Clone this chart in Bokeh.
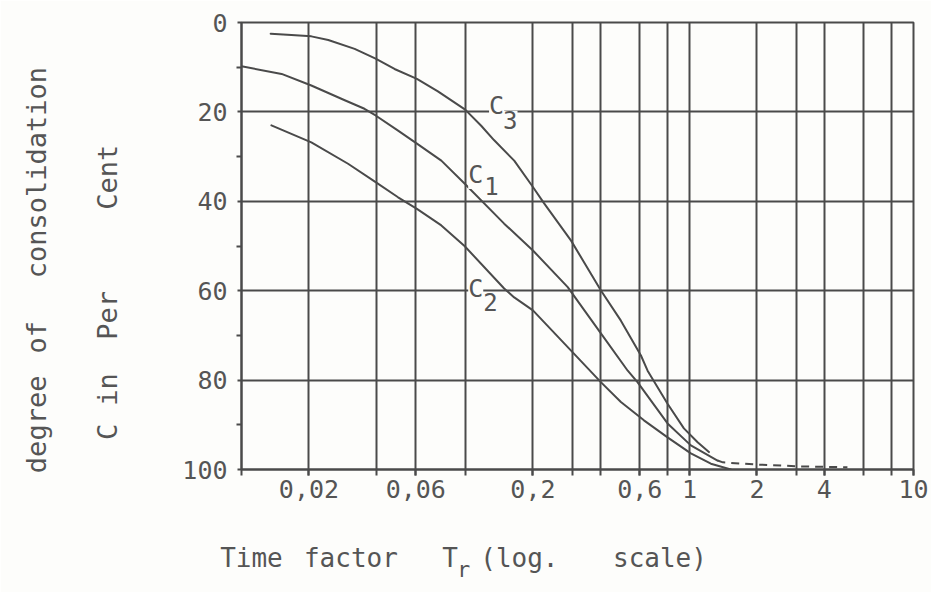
from bokeh.plotting import figure
from bokeh.models import Range1d, FixedTicker, Label, LinearAxis
from bokeh.embed import file_html
from bokeh.resources import INLINE

# ---------------- data ----------------
# time factor Tr (log scale) / degree of consolidation C in per cent
c3_x = [0.0135, 0.0167, 0.0205, 0.0244, 0.032, 0.0397, 0.0482, 0.0607, 0.0753,
        0.0997, 0.1175, 0.134, 0.165, 0.2, 0.224, 0.296, 0.403, 0.494, 0.607,
        0.650, 0.798, 0.944, 1.087, 1.221]
c3_y = [2.5, 2.8, 3.1, 3.9, 5.9, 8.1, 10.4, 12.6, 15.4,
        19.5, 23.1, 26.3, 30.9, 36.8, 40.4, 48.8, 60.0, 66.7, 74.5,
        77.9, 85.3, 90.8, 93.9, 96.1]

c1_x = [0.01, 0.0151, 0.0205, 0.0289, 0.0354, 0.0397, 0.05, 0.0607, 0.078,
        0.099, 0.1488, 0.2, 0.286, 0.403, 0.530, 0.587, 0.798, 1.014, 1.334]
c1_y = [9.8, 11.5, 14.1, 17.4, 19.3, 20.8, 24.2, 27.1, 30.9,
        36.0, 45.0, 51.0, 59.2, 69.6, 77.9, 80.5, 89.7, 94.6, 98.0]
c1_dash_x = [1.334, 1.41, 2.0, 3.14, 5.07]
c1_dash_y = [98.0, 98.4, 98.9, 99.3, 99.5]

c2_x = [0.0136, 0.0205, 0.0299, 0.0397, 0.05, 0.0607, 0.078, 0.099, 0.1488,
        0.165, 0.2, 0.296, 0.403, 0.494, 0.626, 0.798, 1.014, 1.246, 1.53]
c2_y = [23.0, 26.8, 31.6, 35.7, 39.1, 41.7, 45.4, 50.0, 59.5,
        61.5, 64.4, 73.4, 80.5, 84.9, 89.0, 92.8, 96.4, 98.7, 100.0]

x_ticks = [0.02, 0.06, 0.2, 0.6, 1, 2, 4, 10]
x_tick_labels = ["0,02", "0,06", "0,2", "0,6", "1", "2", "4", "10"]
x_grid = [0.02, 0.04, 0.06, 0.1, 0.2, 0.3, 0.4, 0.6, 0.8, 1, 2, 3, 4, 6, 8, 10]
y_ticks = [0, 20, 40, 60, 80, 100]
y_minor = [10, 30, 50, 70, 90]

# axis title words (hand-lettered in the reference, word by word)
x_title_words = ["Time", "factor", "T", "(log.", "scale)"]
x_title_sub = ["r"]
y_title_outer = ["degree", "of", "consolidation"]
y_title_inner = ["C", "in", "Per", "Cent"]

# ---------------- style ----------------
INK = "#4a4a4a"
TXT = "#555555"
BG = "#fdfdfb"
FONT = "DejaVu Sans Mono"

p = figure(width=931, height=592, x_axis_type="log",
           x_range=Range1d(0.01, 10), y_range=Range1d(100, 0),
           output_backend="svg", toolbar_location=None,
           min_border_left=241, min_border_right=18,
           min_border_top=22, min_border_bottom=123)
p.background_fill_color = BG
p.border_fill_color = BG
p.outline_line_color = INK
p.outline_line_width = 2

p.xgrid.ticker = FixedTicker(ticks=x_grid)
p.ygrid.ticker = FixedTicker(ticks=y_ticks)
for g in (p.xgrid, p.ygrid):
    g.grid_line_color = INK
    g.grid_line_width = 2
    g.grid_line_alpha = 1.0

xa = p.xaxis[0]
xa.ticker = FixedTicker(ticks=x_ticks, minor_ticks=[0.01] + x_grid)
xa.major_label_overrides = dict(zip(x_ticks, x_tick_labels))
xa.major_tick_out = 6
xa.major_tick_in = 0
xa.minor_tick_out = 6
xa.minor_tick_in = 0
xa.major_label_standoff = 4

ya = p.yaxis[0]
ya.ticker = FixedTicker(ticks=y_ticks, minor_ticks=y_minor)
ya.major_tick_out = 4
ya.major_tick_in = 0
ya.minor_tick_out = 5
ya.minor_tick_in = 0
ya.major_label_standoff = 9

for ax in (xa, ya):
    ax.axis_line_color = INK
    ax.axis_line_width = 2
    ax.major_tick_line_color = INK
    ax.major_tick_line_width = 2
    ax.minor_tick_line_color = INK
    ax.minor_tick_line_width = 2
    ax.major_label_text_font = FONT
    ax.major_label_text_font_size = "25px"
    ax.major_label_text_color = TXT

# ---------------- axis titles (placed word by word on bare axes) ----------------
def title_axis(where, ticks, words, standoff, size, vertical=False):
    ax = LinearAxis(ticker=FixedTicker(ticks=ticks),
                    major_label_overrides=dict(zip(ticks, words)))
    ax.axis_line_color = None
    ax.major_tick_line_color = None
    ax.minor_tick_line_color = None
    ax.major_tick_out = 0
    ax.major_tick_in = 0
    ax.minor_tick_out = 0
    ax.minor_tick_in = 0
    ax.major_label_standoff = standoff
    ax.major_label_text_font = FONT
    ax.major_label_text_font_size = size
    ax.major_label_text_color = TXT
    if vertical:
        ax.major_label_orientation = "vertical"
    p.add_layout(ax, where)

title_axis("below", [0.01108, 0.0308, 0.0853, 0.174, 0.738], x_title_words, 42, "26px")
title_axis("below", [0.098], x_title_sub, -19, "22px")
title_axis("left", [91.6, 82.1, 65.5, 34.6], y_title_inner, 56, "27px", vertical=True)
title_axis("left", [89.9, 70.4, 33.6], y_title_outer, 37, "27px", vertical=True)

# ---------------- curves ----------------
kw = dict(line_color=INK, line_width=2, line_join="round", line_cap="round")
p.line(c3_x, c3_y, **kw)
p.line(c1_x, c1_y, **kw)
p.line(c2_x, c2_y, **kw)
p.line(c1_dash_x, c1_dash_y, line_dash="8 6", line_color=INK, line_width=2)

# ---------------- curve labels ----------------
def curve_label(x, y, txt, sx, sy):
    p.add_layout(Label(x=x, y=y, text="C", text_font=FONT, text_font_size="25px",
                       text_color=TXT, text_baseline="alphabetic",
                       background_fill_color=BG))
    p.add_layout(Label(x=x, y=y, x_offset=sx, y_offset=sy, text=txt,
                       text_font=FONT, text_font_size="24px", text_color=TXT,
                       text_baseline="alphabetic", background_fill_color=BG))

curve_label(0.1274, 18.6, "3", 14, -14)
curve_label(0.1028, 34.0, "1", 16, -12)
curve_label(0.1028, 59.4, "2", 15, -14)

open("out.html", "w").write(file_html(p, INLINE))
